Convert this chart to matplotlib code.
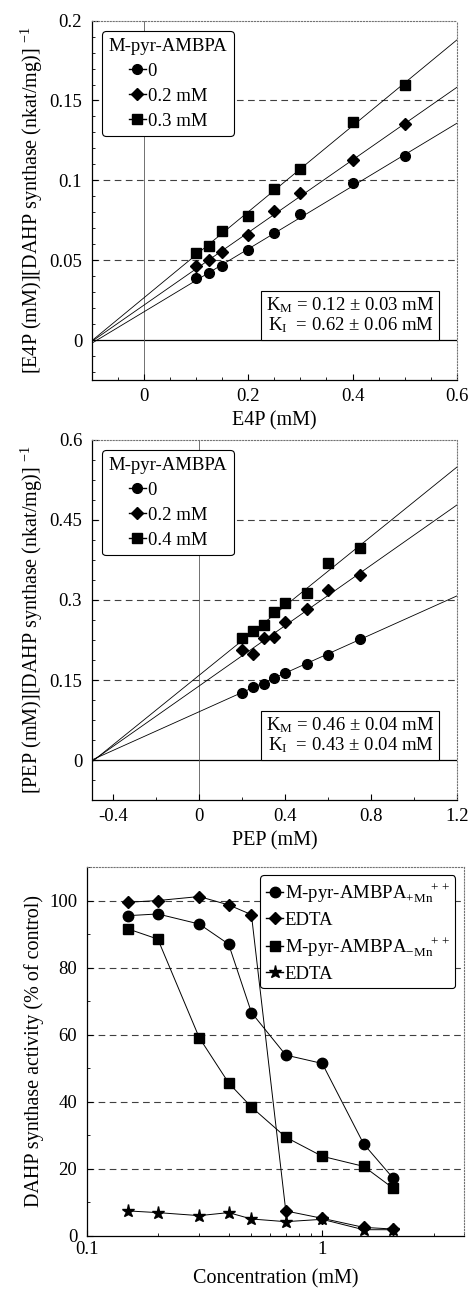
import numpy as np
import matplotlib
matplotlib.use("Agg")
import matplotlib.pyplot as plt
import matplotlib.transforms as mtransforms
from matplotlib.lines import Line2D
from matplotlib.ticker import MultipleLocator, NullFormatter

plt.rcParams['font.family'] = ['Liberation Serif', 'DejaVu Serif']
plt.rcParams['mathtext.fontset'] = 'custom'
plt.rcParams['mathtext.rm'] = 'Liberation Serif'
plt.rcParams['mathtext.it'] = 'Liberation Serif:italic'
plt.rcParams['font.size'] = 13.5

# --- panel 1 : E4P ---
e4p = [0.1, 0.125, 0.15, 0.2, 0.25, 0.3, 0.4, 0.5]
e4p_0 = [0.0386, 0.0418, 0.0466, 0.0564, 0.0672, 0.0787, 0.0983, 0.115]
e4p_02 = [0.0466, 0.0501, 0.0549, 0.0658, 0.081, 0.0919, 0.1127, 0.1353]
e4p_03 = [0.0543, 0.0589, 0.0683, 0.0777, 0.0944, 0.1071, 0.1363, 0.160]
e4p_icpt = [0.0177, 0.0219, 0.0265]
e4p_slope = [0.1967, 0.2272, 0.269]
e4p_labels = ["0", "0.2 mM", "0.3 mM"]

# --- panel 2 : PEP ---
pep = [0.2, 0.25, 0.3, 0.35, 0.4, 0.5, 0.6, 0.75]
pep_0 = [0.126, 0.137, 0.142, 0.154, 0.164, 0.18, 0.196, 0.227]
pep_02 = [0.206, 0.198, 0.228, 0.230, 0.259, 0.284, 0.318, 0.346]
pep_04 = [0.228, 0.2425, 0.253, 0.277, 0.295, 0.314, 0.369, 0.398]
pep_icpt = [0.0906, 0.139, 0.159]
pep_slope = [0.1808, 0.2825, 0.325]
pep_labels = ["0", "0.2 mM", "0.4 mM"]

# --- panel 3 : inhibition ---
conc = [0.15, 0.2, 0.3, 0.4, 0.5, 0.7, 1.0, 1.5, 2.0]
mpyr_mn = [95.5, 96.0, 93.0, 87.0, 66.6, 53.9, 51.4, 27.4, 17.2]
edta_mn = [99.5, 100.0, 101.2, 98.7, 95.8, 7.4, 5.2, 2.5, 2.0]
mpyr_nomn = [91.5, 88.5, 59.1, 45.6, 38.4, 29.4, 23.7, 20.7, 14.2]
edta_nomn = [7.4, 6.9, 6.0, 6.9, 5.0, 4.2, 4.9, 1.8, 1.8]

markers = ['o', 'D', 's']
msizes = [7, 6.5, 6.5]

fig = plt.figure(figsize=(4.69, 12.91), dpi=100)


def style_axes(ax):
    for s in ['top', 'right']:
        ax.spines[s].set_linestyle(':')
        ax.spines[s].set_color('0.45')
        ax.spines[s].set_linewidth(0.8)
    for s in ['left', 'bottom']:
        ax.spines[s].set_linewidth(0.9)
    ax.tick_params(which='both', direction='in', top=False, right=False,
                   labelsize=13.5)
    ax.tick_params(which='major', length=4)
    ax.tick_params(which='minor', length=2)
    ax.tick_params(axis='x', pad=6)
    ax.tick_params(axis='y', pad=7)


def lineweaver(ax, x, ys, icpts, slopes, labels, xlim, ylim, grid, xlabel, ylabel,
               kbox):
    ax.set_xlim(*xlim)
    ax.set_ylim(*ylim)
    ax.axhline(0, color='black', lw=0.9, zorder=1)
    ax.axvline(0, color='0.35', lw=0.6, zorder=1)
    for g in grid:
        ax.axhline(g, color='0.25', lw=0.8, ls=(0, (6, 4)), zorder=1)
    xx = np.array(xlim)
    handles = []
    for y, b, m, mk, ms, lab in zip(ys, icpts, slopes, markers, msizes, labels):
        ax.plot(xx, b + m * xx, color='black', lw=0.6, zorder=2)
        ax.plot(x, y, ls='none', marker=mk, ms=ms, color='black', zorder=3)
        handles.append(Line2D([], [], color='black', lw=1, marker=mk, ms=ms,
                              label=lab))
    leg = ax.legend(handles=handles, title='M-pyr-AMBPA', loc='upper left',
                    bbox_to_anchor=(0.0, 1.0), fontsize=13.5, title_fontsize=13.5,
                    handlelength=0.9, handletextpad=0.1, borderaxespad=0.55,
                    labelspacing=0.42, borderpad=0.35, fancybox=True, framealpha=1,
                    edgecolor='black')
    leg.get_frame().set_linewidth(0.8)
    leg.set_zorder(5)
    trans = mtransforms.blended_transform_factory(ax.transAxes, ax.transData)
    ax.annotate(kbox, xy=(0.951, 0), xycoords=trans, xytext=(-3.5, 3.5),
                textcoords='offset points', ha='right', va='bottom',
                fontsize=13.5, linespacing=1.0, zorder=6,
                bbox=dict(boxstyle='square,pad=0.25', fc='white', ec='black', lw=0.8))
    ax.set_xlabel(xlabel, fontsize=14.5, labelpad=4)
    ax.set_ylabel(ylabel, fontsize=14.5, labelpad=3)
    style_axes(ax)


ax1 = fig.add_axes([0.196, 0.7057, 0.778, 0.2783])
lineweaver(ax1, e4p, [e4p_0, e4p_02, e4p_03], e4p_icpt, e4p_slope, e4p_labels,
           (-0.1, 0.6), (-0.025, 0.2), [0.05, 0.1, 0.15], 'E4P (mM)',
           '[E4P (mM)][DAHP synthase (nkat/mg)] $^{\\mathregular{-1}}$',
           '$\\mathregular{K_M}$ = 0.12 ± 0.03 mM\n$\\mathregular{K_I}$  = 0.62 ± 0.06 mM')
ax1.set_xticks([0, 0.2, 0.4, 0.6])
ax1.set_xticklabels(['0', '0.2', '0.4', '0.6'])
ax1.set_yticks([0, 0.05, 0.1, 0.15, 0.2])
ax1.set_yticklabels(['0', '0.05', '0.1', '0.15', '0.2'])
ax1.xaxis.set_minor_locator(MultipleLocator(0.05))
ax1.yaxis.set_minor_locator(MultipleLocator(0.01))

ax2 = fig.add_axes([0.196, 0.3803, 0.778, 0.2789])
lineweaver(ax2, pep, [pep_0, pep_02, pep_04], pep_icpt, pep_slope, pep_labels,
           (-0.5, 1.2), (-0.075, 0.6), [0.15, 0.3, 0.45], 'PEP (mM)',
           '[PEP (mM)][DAHP synthase (nkat/mg)] $^{\\mathregular{-1}}$',
           '$\\mathregular{K_M}$ = 0.46 ± 0.04 mM\n$\\mathregular{K_I}$  = 0.43 ± 0.04 mM')
ax2.set_xticks([-0.4, 0, 0.4, 0.8, 1.2])
ax2.set_xticklabels(['-0.4', '0', '0.4', '0.8', '1.2'])
ax2.set_yticks([0, 0.15, 0.3, 0.45, 0.6])
ax2.set_yticklabels(['0', '0.15', '0.3', '0.45', '0.6'])
ax2.xaxis.set_minor_locator(MultipleLocator(0.2))
ax2.yaxis.set_minor_locator(MultipleLocator(0.0375))

ax3 = fig.add_axes([0.1855, 0.0428, 0.8035, 0.2856])
ax3.set_xscale('log')
ax3.set_xlim(0.1, 4.0)
ax3.set_ylim(0, 110)
for g in [20, 40, 60, 80, 100]:
    ax3.axhline(g, color='0.25', lw=0.8, ls=(0, (6, 4)), zorder=1)
series = [mpyr_mn, edta_mn, mpyr_nomn, edta_nomn]
mks = ['o', 'D', 's', '*']
mss = [7.5, 6.5, 6.5, 9.5]
labs = ['M-pyr-AMBPA$_{\\mathregular{+Mn}}^{\\mathregular{\\ \\ \\ \\ \\ \\ \\ ++}}$',
        'EDTA',
        'M-pyr-AMBPA$_{\\mathregular{-Mn}}^{\\mathregular{\\ \\ \\ \\ \\ \\ \\ ++}}$',
        'EDTA']
handles = []
for y, mk, ms, lab in zip(series, mks, mss, labs):
    ax3.plot(conc, y, color='black', lw=0.7, marker=mk, ms=ms, zorder=3)
    handles.append(Line2D([], [], color='black', lw=1, marker=mk, ms=ms, label=lab))
leg = ax3.legend(handles=handles, loc='upper right', fontsize=13.5,
                 handlelength=0.9, handletextpad=0.1, borderaxespad=0.45,
                 labelspacing=0.35, borderpad=0.3, fancybox=True, framealpha=1,
                 edgecolor='black')
leg.get_frame().set_linewidth(0.8)
leg.set_zorder(5)
ax3.set_xticks([0.1, 1])
ax3.set_xticklabels(['0.1', '1'])
ax3.xaxis.set_minor_formatter(NullFormatter())
ax3.set_yticks([0, 20, 40, 60, 80, 100])
ax3.yaxis.set_minor_locator(MultipleLocator(10))
ax3.set_xlabel('Concentration (mM)', fontsize=14.5, labelpad=8)
ax3.set_ylabel('DAHP synthase activity (% of control)', fontsize=14.5, labelpad=4)
style_axes(ax3)
ax3.tick_params(axis='x', pad=4)

fig.savefig('out.png', dpi=100)
